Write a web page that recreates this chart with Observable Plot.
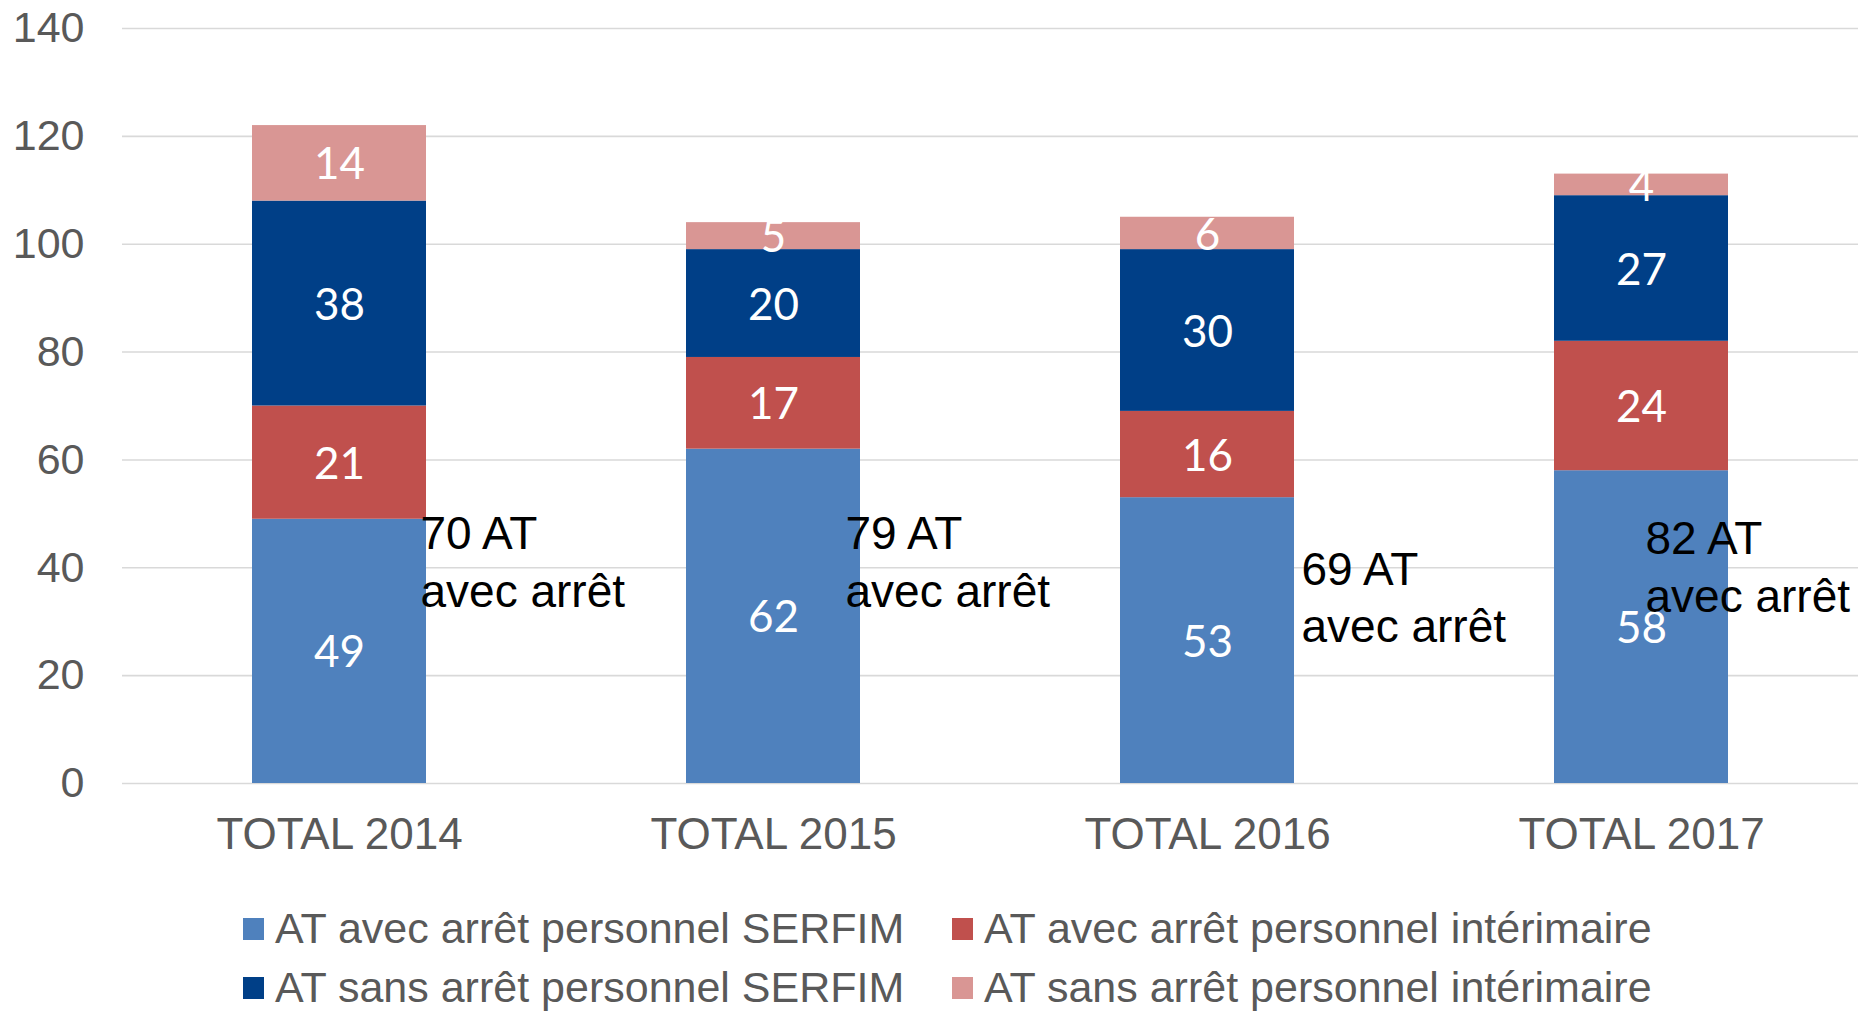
<!DOCTYPE html>
<html>
<head>
<meta charset="utf-8">
<script src="https://cdn.jsdelivr.net/npm/d3@7"></script>
<script src="https://cdn.jsdelivr.net/npm/@observablehq/plot@0.6"></script>
<style>
  html, body { margin: 0; padding: 0; background: #ffffff; }
  svg { display: block; }
</style>
</head>
<body>
<div id="chart"></div>
<script>
// ---- data ----
const categories = ["TOTAL 2014", "TOTAL 2015", "TOTAL 2016", "TOTAL 2017"];
const seriesNames = [
  "AT avec arrêt personnel SERFIM",
  "AT avec arrêt personnel intérimaire",
  "AT sans arrêt personnel SERFIM",
  "AT sans arrêt personnel intérimaire"
];
const avecSerfim = [49, 62, 53, 58];
const avecInterim = [21, 17, 16, 24];
const sansSerfim = [38, 20, 30, 27];
const sansInterim = [14, 5, 6, 4];
const yTicks = [0, 20, 40, 60, 80, 100, 120, 140];
const colors = ["#4F81BD", "#C0504D", "#003F87", "#D99694"];
// annotation boxes: y (data units, top of text block) and horizontal offset from band centre
const annotY = [51, 51, 44.4, 50.1];
const annotDx = [81, 72, 94, 4];

const seriesValues = [avecSerfim, avecInterim, sansSerfim, sansInterim];
const rows = [];
categories.forEach((c, i) => {
  seriesNames.forEach((s, k) => rows.push({cat: c, series: s, value: seriesValues[k][i]}));
});
const annots = categories.map((c, i) => ({
  cat: c,
  text: `${avecSerfim[i] + avecInterim[i]} AT\navec arrêt`,
  y: annotY[i],
  dx: annotDx[i]
}));

const W = 1860, H = 880;
const plot = Plot.plot({
  width: W,
  height: H,
  marginLeft: 122,
  marginRight: 2,
  marginTop: 28,
  marginBottom: 97,
  style: {fontFamily: "'Liberation Sans', Arial, sans-serif", fontSize: "42px", background: "#ffffff", overflow: "visible"},
  x: {domain: categories, paddingInner: 0.6, paddingOuter: 0.3, label: null},
  y: {domain: [0, 140], label: null},
  color: {domain: seriesNames, range: colors},
  marks: [
    Plot.ruleY(yTicks, {stroke: "#d9d9d9", strokeWidth: 1.6}),
    Plot.barY(rows, Plot.stackY({x: "cat", y: "value", z: "series", fill: "series", order: null})),
    Plot.text(rows, Plot.stackY({x: "cat", y: "value", z: "series", order: null, text: d => String(d.value),
      fill: "white", fontSize: 44, dy: 2, fontFamily: "Lato, 'Open Sans', sans-serif"})),
    Plot.axisY({ticks: yTicks, tickSize: 0, tickPadding: 38, fill: "#595959", fontSize: 43, label: null}),
    Plot.axisX({tickSize: 0, tickPadding: 34, fill: "#595959", fontSize: 44, label: null}),
    ...annots.map(a => Plot.text([a], {x: "cat", y: "y", text: "text", dx: a.dx, textAnchor: "start",
      lineAnchor: "top", lineHeight: 1.25, fill: "#000000", fontSize: 46}))
  ]
});
document.getElementById("chart").appendChild(plot);

// ---- legend (below the plot) ----
const legendCols = [[243, 275], [952, 984]];
const legendRows = [63, 122];
const leg = d3.select("#chart").append("svg").attr("width", W).attr("height", 1013 - H);
seriesNames.forEach((s, k) => {
  const col = legendCols[k % 2], row = legendRows[Math.floor(k / 2)];
  leg.append("rect").attr("x", col[0]).attr("y", row - 25).attr("width", 21).attr("height", 22).attr("fill", colors[k]);
  leg.append("text").attr("x", col[1]).attr("y", row).attr("fill", "#595959")
    .attr("font-family", "'Liberation Sans', Arial, sans-serif").attr("font-size", 43).text(s);
});
</script>
</body>
</html>
